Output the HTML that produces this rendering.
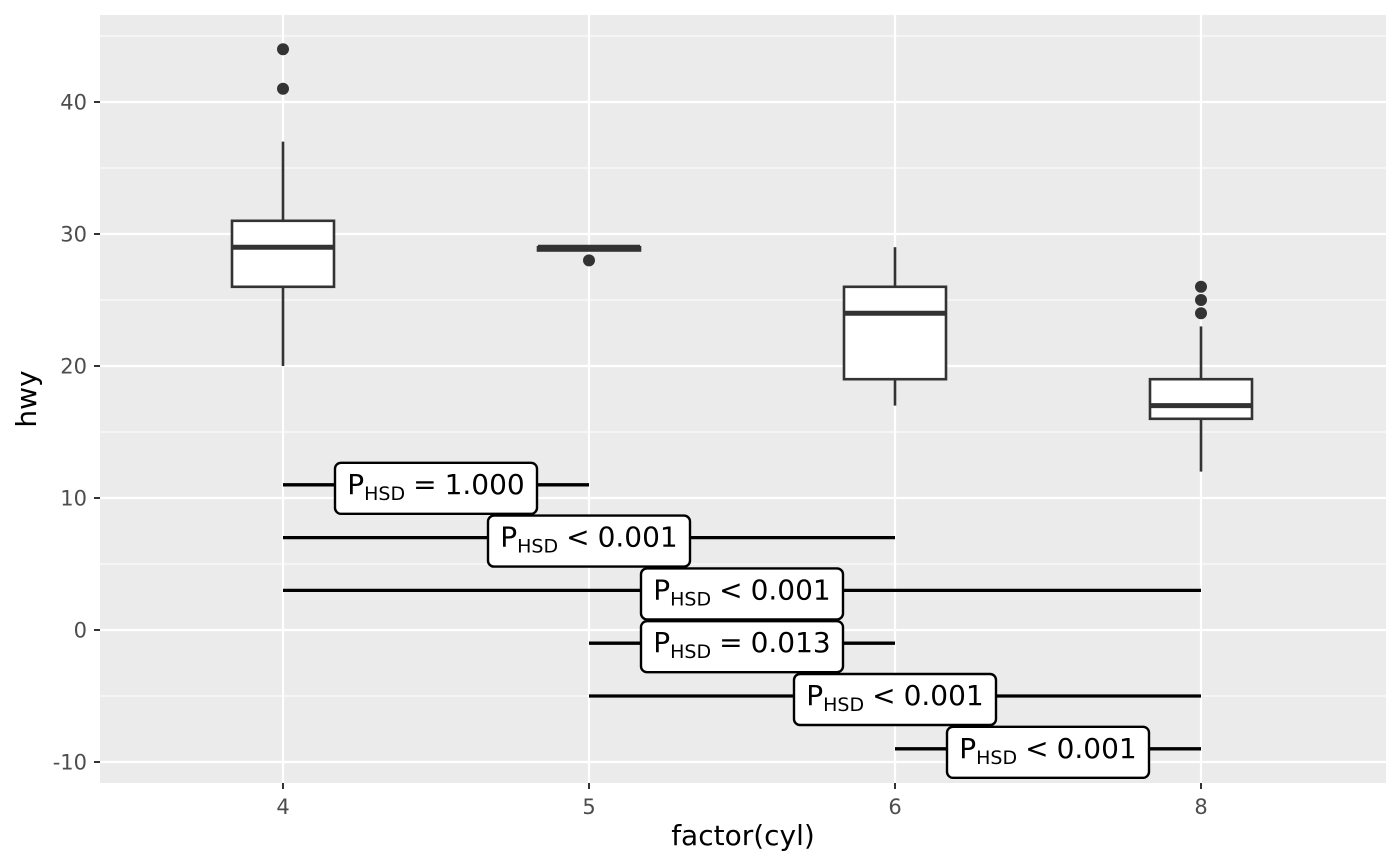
<!DOCTYPE html>
<html><head><meta charset="utf-8"><style>body{margin:0;background:#fff}svg{display:block}</style></head>
<body>
<svg id="chart" width="1400" height="866" xmlns="http://www.w3.org/2000/svg" font-family="DejaVu Sans, Liberation Sans, sans-serif">
<rect x="100" y="15" width="1286" height="768" fill="#ebebeb"/>
<g id="grid"></g><g id="marks"></g><g id="ann"></g><g id="axes"></g>
<text x="743" y="845" text-anchor="middle" font-size="28" fill="#000">factor(cyl)</text>
<text transform="translate(36,399) rotate(-90)" text-anchor="middle" font-size="28" fill="#000">hwy</text>
</svg>
<script>
const categories=["4","5","6","8"];
const q1=[26,28.75,19,16];
const med=[29,29,24,17];
const q3=[31,29,26,19];
const wlo=[20,29,17,12];
const whi=[37,29,29,23];
const outliers=[[41,44],[28],[],[24,25,26]];
const yTicks=[-10,0,10,20,30,40];
const cmpFrom=[0,0,0,1,1,2];
const cmpTo=[1,2,3,2,3,3];
const cmpY=[11,7,3,-1,-5,-9];
const cmpOp=["=","<","<","=","<","<"];
const cmpVal=["1.000","0.001","0.001","0.013","0.001","0.001"];

const NS="http://www.w3.org/2000/svg";
const xS=i=>283+i*306;
const yS=v=>630-v*13.2;
function el(p,t,a){const e=document.createElementNS(NS,t);for(const k in a)e.setAttribute(k,a[k]);p.appendChild(e);return e;}
const grid=document.getElementById('grid'),marks=document.getElementById('marks'),ann=document.getElementById('ann'),axes=document.getElementById('axes');
for(let v=-15;v<=45;v+=5){const y=yS(v);if(y<15||y>783)continue;
 const l=el(grid,'line',{x1:100,x2:1386,y1:y,y2:y,stroke:'#fff','stroke-width':v%10===0?2.2:1.1});
 
 }
categories.forEach((c,i)=>{const l=el(grid,'line',{x1:xS(i),x2:xS(i),y1:15,y2:783,stroke:'#fff','stroke-width':2.2});
 
 });
yTicks.forEach(v=>{const y=yS(v);
 const t=el(axes,'line',{x1:94,x2:100,y1:y,y2:y,stroke:'#333','stroke-width':2});
 
 
 const tx=el(axes,'text',{x:87,y:y+7.5,'text-anchor':'end','font-size':21,fill:'#4d4d4d'});tx.textContent=v;
 
 });
categories.forEach((c,i)=>{const x=xS(i);
 const t=el(axes,'line',{x1:x,x2:x,y1:783,y2:789,stroke:'#333','stroke-width':2});
 
 
 const tx=el(axes,'text',{x:x,y:814,'text-anchor':'middle','font-size':21,fill:'#4d4d4d'});tx.textContent=c;
 
 
 const g=el(marks,'g',{});
 
 
 el(g,'line',{x1:x,x2:x,y1:yS(whi[i]),y2:yS(q3[i]),stroke:'#333','stroke-width':2.6});
 el(g,'line',{x1:x,x2:x,y1:yS(q1[i]),y2:yS(wlo[i]),stroke:'#333','stroke-width':2.6});
 el(g,'rect',{x:x-51,y:yS(q3[i]),width:102,height:Math.max(yS(q1[i])-yS(q3[i]),0.1),fill:'#fff',stroke:'#333','stroke-width':2.6});
 el(g,'line',{x1:x-51,x2:x+51,y1:yS(med[i]),y2:yS(med[i]),stroke:'#333','stroke-width':5});
 outliers[i].forEach(v=>{const o=el(g,'circle',{cx:x,cy:yS(v),r:6,fill:'#333'});
  
  });
});
cmpY.forEach((v,k)=>{const x1=xS(cmpFrom[k]),x2=xS(cmpTo[k]),y=yS(v),cx=(x1+x2)/2;
 const g=el(ann,'g',{});
 
 
 el(g,'line',{x1:x1,x2:x2,y1:y,y2:y,stroke:'#000','stroke-width':3.3});
 el(g,'rect',{x:cx-101,y:y-22,width:202,height:51,rx:6,fill:'#fff',stroke:'#000','stroke-width':2.4});
 const t=el(g,'text',{x:cx,y:y+9,'text-anchor':'middle','font-size':28,fill:'#000'});
 
 
 t.innerHTML='P<tspan font-size="19" dy="6">HSD</tspan><tspan dy="-6" dx="8">'+cmpOp[k]+'</tspan><tspan dx="8">'+cmpVal[k]+'</tspan>';
});
</script>
</body></html>
